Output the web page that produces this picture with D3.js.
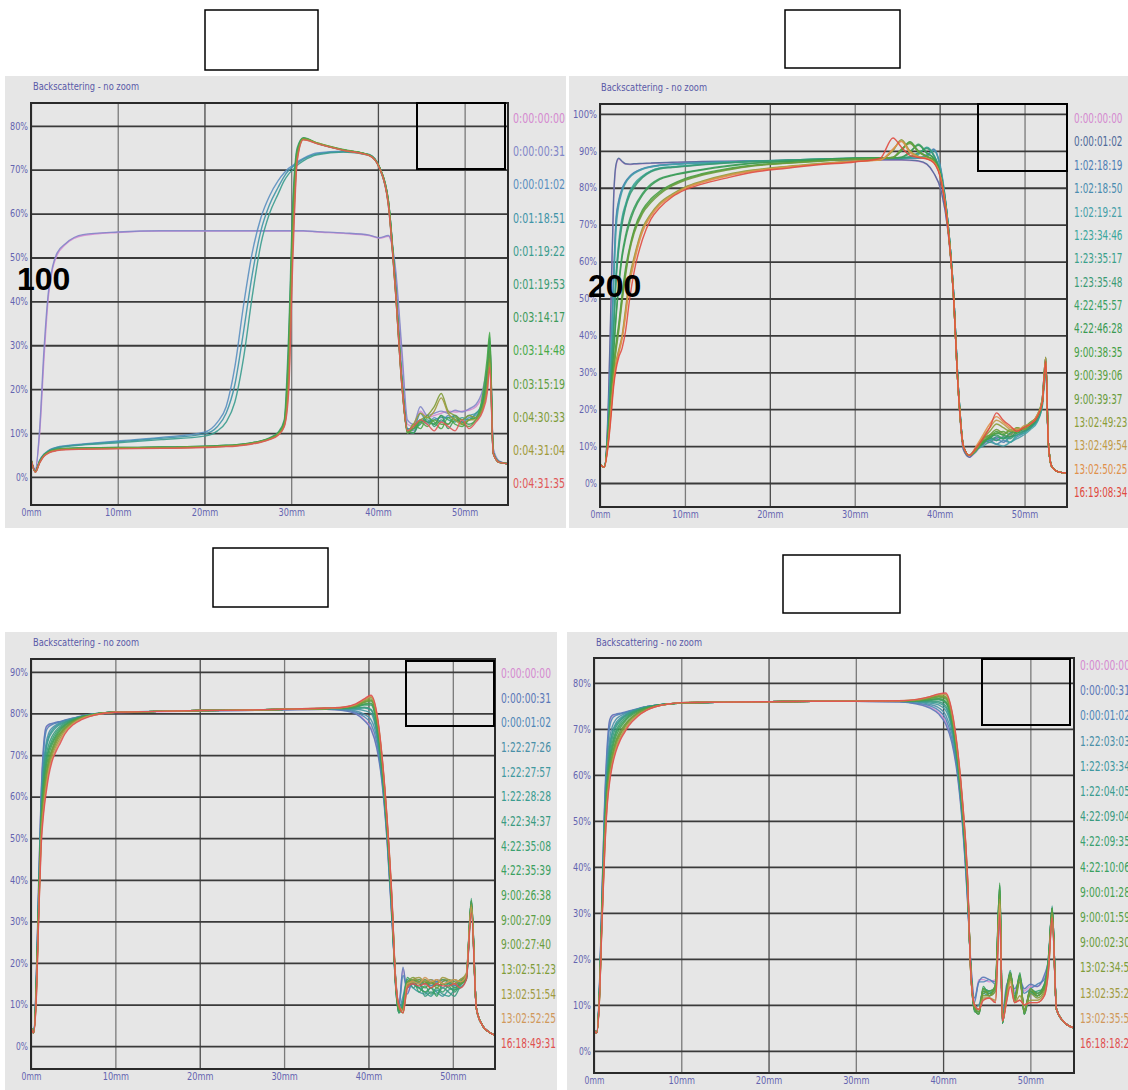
<!DOCTYPE html>
<html><head><meta charset="utf-8">
<script src="https://cdn.jsdelivr.net/npm/d3@7"></script>
<style>body{margin:0;background:#fff}</style>
</head><body>
<svg id="c" width="1128" height="1090"></svg>
<script>
// ---------------- DATA ----------------
const xTicks = [0,10,20,30,40,50];
const p1YTicks = [0,10,20,30,40,50,60,70,80];
const p2YTicks = [0,10,20,30,40,50,60,70,80,90,100];
const p3YTicks = [0,10,20,30,40,50,60,70,80,90];
const p4YTicks = [0,10,20,30,40,50,60,70,80];
const panelTags = ["100","200"];
const chartTitle = "Backscattering - no zoom";

const p1Labels = ["0:00:00:00","0:00:00:31","0:00:01:02","0:01:18:51","0:01:19:22","0:01:19:53","0:03:14:17","0:03:14:48","0:03:15:19","0:04:30:33","0:04:31:04","0:04:31:35"];
const p2Labels = ["0:00:00:00","0:00:01:02","1:02:18:19","1:02:18:50","1:02:19:21","1:23:34:46","1:23:35:17","1:23:35:48","4:22:45:57","4:22:46:28","9:00:38:35","9:00:39:06","9:00:39:37","13:02:49:23","13:02:49:54","13:02:50:25","16:19:08:34"];
const p3Labels = ["0:00:00:00","0:00:00:31","0:00:01:02","1:22:27:26","1:22:27:57","1:22:28:28","4:22:34:37","4:22:35:08","4:22:35:39","9:00:26:38","9:00:27:09","9:00:27:40","13:02:51:23","13:02:51:54","13:02:52:25","16:18:49:31"];
const p4Labels = ["0:00:00:00","0:00:00:31","0:00:01:02","1:22:03:03","1:22:03:34","1:22:04:05","4:22:09:04","4:22:09:35","4:22:10:06","9:00:01:28","9:00:01:59","9:00:02:30","13:02:34:55","13:02:35:26","13:02:35:57","16:18:18:28"];

// position along the cell (mm)
const p1X = [0,0.5,1,1.5,2,2.5,3,4,6,10, 15,20,21.5,22.5,23.5,24.5,25.5,26.5,27.5,28.5, 29.2,29.7,30.2,30.7,31.4,33,36,39,40.2,41.2, 42,42.8,43.4,44.1,44.9,45.7,46.5,47.3,48.1,48.9, 49.7,50.5,51.3,52.1,52.6,52.9,53.3,54,55];
const p1Series = [
 [4,1.8,10,27,41,47.5,50.5,53,55,55.7, 56,56,56,56,56,56,56,56,56,56, 56,56,56,56,56,55.8,55.5,55,54.4,54.8, 47,26,12,11.5,15,13.5,14,14.5,15,14.8, 15,15.2,16,19,24,31,6,3.5,3],
 [4,1.5,11,29,42,48,51,53.2,55.2,55.8, 56.1,56.1,56.1,56.1,56.1,56.1,56.1,56.1,56.1,56.1, 56.1,56.1,56.1,56.1,56.1,55.9,55.6,55.1,54.5,55, 48,28,13,12,16,14,14.5,15,14.5,15.2, 14.8,15.5,16.5,20,25,30,6.5,3.6,3],
 [4,1.3,3.8,5.2,6,6.5,6.8,7.1,7.5,8.2, 9,10.2,12.5,16,25,39,51,59,64,67.5, 69.3,70.3,71,71.8,72.6,73.8,74.2,73.5,70.5,63, 45,22,11,10.5,13,12,13.5,12.5,14,13, 12.5,13.5,14,17,22,28,5.5,3.4,3],
 [4,1.3,3.7,5.1,5.9,6.4,6.7,7,7.4,8, 8.8,9.8,11.5,14.5,21,33,46,56,62,66, 68.5,69.8,70.7,71.5,72.4,73.6,74.1,73.4,70.3,62.5, 44,21,11,11,14.5,12.5,13,13.5,13.5,14, 13,14,14.5,17.5,23,29,5.5,3.4,3],
 [4,1.3,3.6,5,5.8,6.3,6.6,6.9,7.3,7.8, 8.5,9.3,10.5,12.5,17,27,41,53,60,64.5, 67.5,69,70,71,72,73.4,74,73.3,70.2,62, 43,20,10.5,10,12.5,13,12,14,13,12.5, 13.5,13,14.5,16.5,22,28,5.4,3.3,3],
 [4,1.2,3.5,5,5.7,6.1,6.3,6.5,6.6,6.7, 6.8,7,7.1,7.2,7.3,7.5,7.8,8.2,8.9,10.2, 13,32,63,75,77.3,76,74.5,73.3,70.5,63, 44,21,10.5,11,12,14,11.5,13,12,14, 12,13,13.5,18,25,32,5.5,3.3,3],
 [4,1.2,3.5,5,5.7,6.1,6.3,6.5,6.6,6.7, 6.8,7,7.1,7.2,7.3,7.5,7.8,8.2,8.8,10, 12.5,29,61,74.5,77.2,76,74.5,73.3,70.5,63, 44,21,10.5,10,13,12.5,12,14,11,13, 12.5,12,13,17,24,31,5.5,3.3,3],
 [4,1.2,3.4,4.9,5.6,6,6.2,6.4,6.5,6.6, 6.7,6.9,7,7.1,7.2,7.4,7.7,8.1,8.7,9.9, 12.3,27,59,74,77.2,76.1,74.6,73.4,70.5,63, 44,21,10,12,11,13.5,12.5,11,13.5,12, 11.5,13,13.5,19,27,33,5.5,3.3,3],
 [4,1.2,3.4,4.9,5.6,6,6.2,6.4,6.5,6.6, 6.7,6.9,7,7.1,7.2,7.4,7.7,8.1,8.7,9.8, 12,25,57,73.5,77.1,76,74.5,73.3,70.4,62.5, 43.5,20.5,10,11,12.5,11.5,13,12,12,13.5, 12,11.5,13,16,22,29,5.4,3.3,3],
 [4,1.1,3.3,4.8,5.5,5.9,6.1,6.3,6.4,6.5, 6.6,6.8,6.9,7,7.1,7.3,7.6,8,8.6,9.7, 11.8,23,55,73,77,76.1,74.5,73.3,70.4,62.5, 43.5,20.5,10.5,11.5,13,14,16,19,15,14, 13,14,13.5,16,21,27,5.4,3.3,3],
 [4,1.1,3.3,4.8,5.5,5.9,6.1,6.3,6.4,6.5, 6.6,6.8,6.9,7,7.1,7.3,7.6,8,8.6,9.6, 11.6,21,53,72.5,76.9,76,74.4,73.2,70.3,62.3, 43,20,10.5,12,14.5,13.5,15,18,14.5,13, 12,13,13,15.5,20,26,5.4,3.3,3],
 [4,1.1,3.2,4.7,5.4,5.8,6,6.2,6.3,6.4, 6.5,6.7,6.8,6.9,7,7.2,7.5,7.9,8.5,9.5, 11.4,19,50,72,76.8,75.9,74.4,73.2,70.3,62, 43,20,10.5,11.5,13,12,10.5,12.5,11.5,10.5, 13,11,12.5,15,19,25,5.3,3.3,3]
];

const p2X = [0,0.5,1,1.3,1.6,1.9,2.2,2.6,3,3.5, 4,5,6,7,8.5,10,12,15,18,22,26,30, 33,34.5,35.5,36.5,37.5,38.5,39.3,40.2,41,41.6,42.2,42.8,43.5, 44.3,45.1,45.9,46.7,47.5,48.3,49.1,49.9,50.7,51.5,52.1,52.5,52.8,53.2,54,55];
const p2Series = [
 [5,4.3,22,48,76,86,87.8,87,86.4,86.3, 86.4,86.5,86.6,86.7,86.8,86.9,87,87.1,87.2,87.3,87.4,87.5, 87.5,87.5,87.5,87.4,87.2,86.3,84,79,68,52,25,9,7, 8.5,10.5,11,12,12.5,13,14,14.5,15.5,17,23,34,11,4.5,3,2.7],
 [5,4.3,23,50,77,86.5,88,87.2,86.5,86.4, 86.5,86.6,86.7,86.8,86.9,87,87.1,87.2,87.3,87.4,87.5,87.6, 87.6,87.6,87.6,87.5,87.3,86.4,84,79,68,52,25,9,7, 9,11,11.5,12.5,12,13.5,14.5,14,15.5,17.5,23,33,11,4.5,3,2.7],
 [5,4.3,18,36,56,72,76.5,79.8,81.7,83.1, 84.1,85.2,85.8,86.1,86.4,86.6,86.8,87,87.2,87.4,87.6,87.8, 87.9,88,88,88,88,88.5,90.5,84,70,53,26,10,7.5, 9.5,10.5,12,12,11,12.5,13,14,15,17,22,32,11,4.5,3,2.7],
 [5,4.3,18,35,55,71,76,79.5,81.5,83, 84,85.1,85.7,86.1,86.4,86.6,86.8,87,87.2,87.4,87.6,87.8, 87.9,88,88,88,88,88.7,90.3,84.5,70,53,26,10,7.5, 9,11,11.5,10.5,11.5,11,12.5,13.5,15,17,22,31,11,4.5,3,2.7],
 [5,4.3,17,34,53,69,75,79,81.2,82.8, 83.8,85,85.6,86,86.3,86.5,86.8,87,87.2,87.4,87.6,87.8, 87.9,88,88,88,88.1,89,90,84,70,53,26,10,7.5, 9,10,11,10.5,10,11,12,13,14.5,16.5,21,31,11,4.5,3,2.7],
 [5,4.3,16,31,43,57,65,72,75.5,79, 81,83.2,84.6,85.3,85.7,86,86.4,86.9,87.2,87.5,87.8,88, 88.1,88.1,88.1,88.2,89,91,89,83,70,53,26,10,7.5, 9,11,12,11.5,12.5,11,13,13.5,15,17,22,33,11,4.5,3,2.7],
 [5,4.3,16,30,42,56,64,71,75,78.5, 80.5,83,84.5,85.3,85.6,85.9,86.3,86.8,87.2,87.5,87.8,88, 88.1,88.1,88.1,88.3,89.3,90.8,88.8,83,70,53,26,10,7.5, 8.5,11.5,11,12.5,12,12.5,13,14,15.5,17,21,32,11,4.5,3,2.7],
 [5,4.3,15,29,41,55,63,70,74.5,78, 80,82.7,84.3,85.1,85.5,85.8,86.2,86.7,87.1,87.5,87.8,88, 88.1,88.1,88.1,88.4,89.5,90.6,88.7,83,70,53,26,10,7.5, 9,10.5,12.5,11.5,12.5,12,13.5,14,15,17.5,22,34,11,4.5,3,2.7],
 [5,4.3,15,26,36,46,54,62,67,71.5, 74.5,78.5,81,82.5,83.5,84.2,85,86,86.7,87.2,87.6,88, 88.1,88.1,88.2,89.5,91.8,89.5,88,82.5,69,52,25,10,7.5, 9,11,12.5,13,12,13.5,14,14.5,16,18,23,34,11,4.5,3,2.7],
 [5,4.3,14,25,35,45,53,61,66,70.5, 73.8,78,80.6,82.2,83.3,84,84.8,85.8,86.6,87.1,87.6,88, 88.1,88.1,88.3,89.8,91.5,89.3,87.9,82.5,69,52,25,10,7.5, 9.5,11.5,12,13.5,13,12.5,14,15,15.5,18,22,33,11,4.5,3,2.7],
 [5,4.3,14,24,32,38,43,51,58,64, 68.5,74,77,79,81,82.5,83.8,85.2,86.1,86.8,87.4,87.9, 88,88.2,90,92.5,90,88.5,87.5,82,69,52,25,10,7.5, 9,11,12.5,14,13,14.5,13.5,15,16,18,22,33,11,4.5,3,2.7],
 [5,4.3,14,23,31,37,42,50,57,63.5, 68,73.5,76.5,78.6,80.8,82.3,83.6,85,86,86.7,87.3,87.8, 88,88.3,90.3,92.3,89.8,88.5,87.5,82,69,52,25,10,7.5, 9.5,12,13,13.5,14,13,15,14.5,16,18.5,23,34,11,4.5,3,2.7],
 [5,4.3,13,22,30,36,41,49,56,63, 67.5,73,76,78.2,80.5,82,83.4,84.8,85.9,86.6,87.2,87.7, 87.9,88.2,90.5,92,89.7,88.4,87.4,82,69,52,25,10,7.5, 9,11.5,13,14.5,13.5,14,14.5,15,16.5,18,22,33,11,4.5,3,2.7],
 [5,4.3,12,20,28,33,36,40,47,56, 61,69,73,75.8,78.3,80.2,81.8,83.6,84.8,85.8,86.6,87.3, 87.6,90,93,90,88.5,88,87,82,69,52,25,10,7.5, 9,12,14,16,15,14,15,14.5,16,18,22,33,11,4.5,3,2.7],
 [5,4.3,12,20,27.5,32.5,35.5,39.5,46,55, 60.5,68.5,72.7,75.5,78,80,81.6,83.4,84.6,85.7,86.5,87.2, 87.6,90.3,92.7,89.8,88.4,87.9,87,82,69,52,25,10,7.5, 9.5,12.5,15,17,16,14.5,14,15.5,16,18,23,34,11,4.5,3,2.7],
 [5,4.3,11.5,19,27,32,35,39,45,54, 59.5,68,72.3,75.2,77.8,79.8,81.4,83.2,84.5,85.6,86.4,87.1, 87.5,90.5,92.5,89.5,88.3,87.9,86.9,82,69,52,25,10,7.5, 10,13,16,18,16.5,15,14.5,15,16,18.5,22,33,11,4.5,3,2.7],
 [5,4.3,11,18,26,31,34,36.5,41,50, 57,66,71.5,74.5,77.5,79.4,81,82.7,84.2,85.3,86.3,87, 88,93.5,91,88.8,88.2,87.8,86.8,81.5,68.5,52,25,10,7.5, 9.5,12,15,19,17,15.5,14,15,16,18,22,33,11,4.5,3,2.7]
];

const p3X = [0,0.3,0.6,0.9,1.2,1.5,1.8,2.1,2.5,3, 3.5,4,5,6,7,8.5,10,15,20,25, 30,35,37,38.5,39.5,40.3,41,41.6,42.2,42.8, 43.2,43.6,44.1,44.6,45.3,46,46.7,47.4,48.1,48.8, 49.5,50.2,50.9,51.6,52.2,52.8,53.5,54.2,55];
const p3Series = [
 [4.6,3.2,14,38,60,72,76.5,77.2,77.5,77.8, 78,78.3,78.8,79.3,79.7,80,80.2,80.4,80.6,80.7, 80.9,81,80.8,80,78.5,76.5,72,64,50,30, 17,10,18.5,13,15.5,15,16,15,16,15.5, 16,15,15.5,16.5,34,9,5,3.5,2.6],
 [4.6,3.2,14.5,38.5,60.5,72.5,76.8,77.4,77.6,77.9, 78.1,78.4,78.9,79.4,79.8,80.1,80.3,80.5,80.7,80.8, 80.9,81,80.7,79.9,78.3,76.2,71.5,63.5,49.5,29.5, 16.5,9.5,19,12.5,16,15.5,15,16,15.5,16, 15.5,16,15,16.5,33,9,5,3.5,2.6],
 [4.6,3.2,13.5,37,59,71,75.8,76.8,77.3,77.7, 78,78.3,78.8,79.3,79.7,80.1,80.3,80.5,80.6,80.7, 80.9,81,80.9,80.3,79.2,77.5,73,64.5,50.5,30.5, 17,9.5,17,14,15,16,15.5,14.5,15.5,16, 15.5,14.5,16,17,35,9,5,3.5,2.6],
 [4.6,3.2,13,36,57,68,73,75.3,76.5,77.3, 77.8,78.2,78.8,79.3,79.7,80.1,80.3,80.5,80.7,80.8, 81,81.1,81,80.6,79.8,78.5,74,65,51,31, 16,9,12,16,15,14,16,14.5,15,14, 15,14.5,15.5,16.5,34,9,5,3.5,2.6],
 [4.6,3.2,12.8,35.5,56,67,72,74.5,76,77, 77.6,78,78.7,79.3,79.7,80.1,80.3,80.5,80.7,80.8, 81,81.1,81.1,81,80.7,80,75,65.5,51.5,31.5, 15.5,8.5,11,15.5,14,13,12.5,14,13,12, 13.5,14,15,16,33,9,5,3.5,2.6],
 [4.6,3.2,12.5,35,56,66.5,71.5,74,75.5,76.7, 77.4,77.9,78.7,79.3,79.7,80.1,80.3,80.5,80.7,80.8, 81,81.2,81.2,81.2,81.3,80.8,75.5,66,52,32, 15,8,10,14.5,15.5,14,13,12,13.5,12.5, 12,13.5,14,16,34,9,5,3.5,2.6],
 [4.6,3.2,12,34,55,65,70,72.5,74.5,76, 77,77.7,78.6,79.2,79.7,80.1,80.3,80.5,80.7,80.8, 81,81.2,81.2,81.3,81.5,81,76,66,52,32, 15,8,10.5,16,14,15.5,12,13,12.5,14, 13,12,14.5,16.5,35,9,5,3.5,2.6],
 [4.6,3.2,12,33.5,54,64,69,71.5,73.7,75.5, 76.6,77.4,78.5,79.2,79.6,80.1,80.3,80.5,80.7,80.8, 81,81.2,81.3,81.5,82,82,77,67,52.5,32.5, 16,8.5,9.5,15,16,13,14.5,12.5,14,13, 14.5,13,15,17,35.5,9,5,3.5,2.6],
 [4.6,3.2,12,33,53.5,63,68,71,73,75, 76.3,77.2,78.4,79.1,79.6,80.1,80.3,80.5,80.7,80.8, 81,81.2,81.3,81.6,82.2,82.3,77.5,67.5,53,33, 15.5,8,10,16.5,15,14,13,14,12,15, 14,13.5,15.5,16.5,35,9,5,3.5,2.6],
 [4.6,3.2,12,33,53,62,67,70,72.5,74.5, 76,77,78.3,79.1,79.6,80.1,80.3,80.5,80.7,80.8, 81,81.2,81.3,81.7,82.3,82.5,78,68,53,33, 16,8.5,9,15,15.5,15,14,15.5,14.5,15, 15,14,15,16,34,9,5,3.5,2.6],
 [4.6,3.2,11.5,32.5,52,60.5,65.5,69,71.5,74, 75.5,76.6,78.1,79,79.5,80.1,80.3,80.5,80.7,80.8, 81,81.2,81.4,81.8,82.6,83,78.5,68.5,53.5,33.5, 16.5,9,8.5,15.5,16,15,15.5,14,15,16, 15.5,15,16,16.5,35,9,5,3.5,2.6],
 [4.6,3.2,11.5,32,51.5,60,65,68.3,71,73.5, 75.2,76.4,78,79,79.5,80.1,80.3,80.5,80.7,80.8, 81,81.2,81.4,81.9,82.8,83.2,78.8,68.8,53.8,33.8, 16,9,9,14.5,15.5,16,15,15.5,14,15.5, 16,15.5,15,17,34,9,5,3.5,2.6],
 [4.6,3.2,11,32,51,59,64,67.5,70.5,73, 74.8,76.2,77.9,78.9,79.5,80.1,80.3,80.5,80.7,80.8, 81,81.2,81.4,82,83,83.5,79,69,54,34, 16.5,9.5,8,15,16.5,15.5,16,15,16,15, 15.5,16,15.5,17,33,9,5,3.5,2.6],
 [4.6,3.2,10.5,31,50,58,63,66.5,69.8,72.3, 74.2,75.8,77.7,78.8,79.4,80,80.3,80.5,80.7,80.8, 81,81.2,81.5,82.1,83.2,83.9,79.5,69.5,54.5,34.5, 17,9.5,8,14,16,16.5,15.5,16,15,16.5, 16,15,16,17.5,34,9,5,3.5,2.6],
 [4.6,3.2,10.5,30.5,49,57,62,66,69,71.7, 73.6,75.4,77.5,78.7,79.4,80,80.3,80.5,80.7,80.8, 81,81.3,81.5,82.2,83.4,84.1,79.8,69.8,54.8,34.8, 16.5,10,8.5,15,15.5,15,16.5,15.5,16,15, 15.5,16,15.5,17,33.5,9,5,3.5,2.6],
 [4.6,3.2,10,30,48,56,61,65,68.5,71, 73,75,77.3,78.5,79.3,80,80.3,80.5,80.7,80.8, 81,81.3,81.5,82.3,83.5,84.4,80,70,55,35, 16,10,8,14,15,14.5,15,14,15,14.5, 14.5,15,14,16,32,9,5,3.5,2.6]
];

const p4X = [0,0.3,0.6,0.9,1.2,1.5,1.8,2.1,2.5,3, 3.5,4,5,6,7,8.5,10,15,20,25, 30,35,37,38.5,39.5,40.3,41,41.6,42.2,42.8, 43.2,43.6,44.1,44.6,45.3,46,46.5,46.8,47.3,47.7, 48.2,48.8,49.3,50,50.8,51.6,52.1,52.5,53,54,55];
const p4Series = [
 [4.6,3.9,12,32,52,65,71.5,72.8,73.1,73.3, 73.5,73.8,74.3,74.8,75.1,75.4,75.6,75.8,75.9,76, 76,75.9,75.5,74.7,73.5,71.5,67.5,61,50,33, 18,11,15.5,15.5,15,15.5,28,8,14,16, 13,15,13,14,14,16,20,30,9,6,5],
 [4.6,3.9,12.5,33,53,66,72,73,73.2,73.4, 73.6,73.9,74.4,74.8,75.1,75.4,75.6,75.8,75.9,76, 76,75.9,75.4,74.5,73.2,71,67,60.5,49.5,32.5, 18.5,11.5,15,16,15.5,15,30,8.5,14.5,15.5, 13.5,15.5,13.5,14.5,14,16.5,20,29,9,6,5],
 [4.6,3.9,12,32,51.5,64,70.5,72.3,72.9,73.2, 73.5,73.8,74.3,74.8,75.1,75.4,75.6,75.8,75.9,76, 76,75.9,75.6,75,74,72.2,68,61.5,50.5,33.5, 17.5,10.5,15,15,15.5,14.5,29,7.5,13.5,16, 12.5,15,12.5,13.5,14.5,15.5,20,30,9,6,5],
 [4.6,3.9,11.5,31,50,62,68,70.5,72,72.8, 73.3,73.7,74.3,74.8,75.1,75.4,75.6,75.8,75.9,76, 76,76,75.8,75.3,74.6,73,69,62,51,34, 17,9.5,10,13,12.5,13.5,33,7,13,16.5, 11,15.5,9,13,12,14,20,31,9,6,5],
 [4.6,3.9,11.3,30.5,49,60.5,66.5,69.3,71.2,72.3, 73,73.5,74.2,74.8,75.1,75.4,75.6,75.8,75.9,76, 76,76,75.9,75.6,75.2,74,70,62.8,51.5,34.5, 17,9,9,13.5,13,14,35,6.5,12.5,17, 11.5,16,8.5,13.5,12.5,14.5,21,31,9,6,5],
 [4.6,3.9,11.2,30.2,48.5,60,66,69,70.8,72, 72.8,73.4,74.2,74.7,75.1,75.4,75.6,75.8,75.9,76, 76,76,76,75.8,75.6,74.6,70.5,63.2,51.8,34.8, 16.5,9,8.5,12.5,12,13,34,6,13.5,17.5, 11,16.5,8,12.5,12,13.5,20,31.5,9,6,5],
 [4.6,3.9,11,30,48,59,65,68,70.3,71.7, 72.6,73.2,74.1,74.7,75.1,75.4,75.6,75.8,75.9,76, 76,76,76,76,75.9,75,71,63.5,52,35, 17,9,8,13,12.5,14,36,6,13,17, 11,16.5,8,13,12,14,20,31,9,6,5],
 [4.6,3.9,11,29.5,47,58,64,67,69.5,71.2, 72.2,73,74,74.6,75,75.4,75.6,75.8,75.9,76, 76,76,76.1,76.2,76.3,75.6,71.5,64,52.5,35.5, 16.5,8.5,8.5,13.5,13,13.5,35,6.5,12,16, 12,16,9,12.5,13,13.5,21,30,9,6,5],
 [4.6,3.9,11,29.2,46.5,57.5,63.2,66.2,69,70.7, 71.8,72.8,73.9,74.6,75,75.4,75.6,75.8,75.9,76, 76,76,76.1,76.3,76.5,75.8,71.8,64.3,52.8,35.8, 17,9,8,14,12,14.5,36,6,13,17, 11,17,8,13.5,12.5,14.5,20,31,9,6,5],
 [4.6,3.9,11,29,46,57,62.5,65.5,68.3,70.2, 71.5,72.5,73.7,74.5,75,75.4,75.6,75.8,75.9,76, 76,76,76.1,76.4,76.6,76,72,64.5,53,36, 17,9.5,8.5,13,12.5,14,36.5,6,13.5,17, 11,16.5,8.5,13,12,14,20,31,9,6,5],
 [4.6,3.9,10.8,28.5,45,56,61.5,64.5,67.4,69.5, 70.9,72,73.5,74.4,74.9,75.4,75.6,75.8,75.9,76, 76,76,76.2,76.6,76.9,76.5,72.5,65,53.5,36.5, 16.5,9,8,12.5,13,13.5,35,6.5,12.5,16.5, 11.5,16,8,13,12.5,14,20,31,9,6,5],
 [4.6,3.9,10.6,28.2,44.5,55.5,61,64,67,69, 70.6,71.8,73.4,74.3,74.9,75.4,75.7,75.8,75.9,76, 76,76.1,76.2,76.7,77.1,76.8,72.8,65.3,53.8,36.8, 16,9.5,8.5,13.5,12,14.5,34,7,13,17, 11,16,8.5,13.5,12,13.5,19,30,9,6,5],
 [4.6,3.9,10.5,28,44,55,60.5,63.5,66.5,68.7, 70.3,71.6,73.2,74.2,74.9,75.4,75.7,75.8,75.9,76, 76,76.1,76.3,76.8,77.2,77,73,65.5,54,37, 16,10,9,12,12,13,33,6.5,12,16, 10.5,15,9,12.5,11.5,13,19,30,9,6,5],
 [4.6,3.9,10.3,27.5,43,54,59.5,62.8,65.8,68.1, 69.8,71.2,73,74.1,74.8,75.4,75.7,75.8,75.9,76, 76,76.1,76.3,76.9,77.4,77.4,73.5,66,54.5,37.5, 16,10,9,11.5,11.5,11,33,6.5,11.5,15.5, 10.5,12,10,11,11,12.5,18.5,29.5,9,6,5],
 [4.6,3.9,10.2,27.2,42.5,53.5,59,62.4,65.4,67.8, 69.5,71,72.9,74,74.8,75.4,75.7,75.8,75.9,76, 76,76.1,76.4,77,77.5,77.6,73.8,66.3,54.8,37.8, 16,10,9,11,11.5,10.5,32,6.5,11,15, 10.5,11,10,10.5,10.5,12,18,29,9,6,5],
 [4.6,3.9,10,27,42,53,58.5,62,65,67.5, 69.2,70.7,72.7,74,74.8,75.4,75.7,75.8,75.9,76, 76,76.1,76.4,77,77.6,77.8,74,66.5,55,38, 16,10,9,11,11.5,10.5,30,6.5,11,14, 10.5,11,10,10.5,10.5,12,18,29,9,6,5]
];

// ---------------- STYLES ----------------
const p1Colors = ["#d58ad0","#8286c8","#5a8fc0","#3e94a8","#3a9c8e","#3a9c74","#3c9a5a","#48aa48","#5da043","#7e9c38","#a09a3a","#e05858"];
const p2Colors = ["#d58ad0","#4f6a9a","#5080b5","#4a8cb0","#45a0a8","#3aa69c","#3aa08a","#3a9a74","#3aa062","#3a9a52","#45a045","#5aa040","#6a9c3c","#8a9c38","#c09a48","#e0904a","#e04a40"];
const p34Colors = ["#d58ad0","#5a78b8","#4f86b8","#4a90a8","#3f98a0","#3a9c90","#3a9a80","#3aa070","#3aa060","#45a050","#5a9f45","#6a9c3c","#7f9c38","#a09a40","#d0985a","#e05050"];
const tickColor = "#6464b0";
const FONT = "'Liberation Sans Narrow','DejaVu Sans Condensed','Liberation Sans',sans-serif";

const panels = [
 {bg:[5,76,561,452], l:31,t:103,r:508,b:505, yDom:[-6.4,85.2], yTicks:p1YTicks, xs:p1X, ser:p1Series, labels:p1Labels, colors:p1Colors, legX:513, legY0:118, legDy:33.2, legCw:5.2, titleX:33, titleY:90, inBox:[417,103,505,169]},
 {bg:[569,76,559,452], l:600,t:104,r:1067,b:507, yDom:[-6.5,102.7], yTicks:p2YTicks, xs:p2X, ser:p2Series, labels:p2Labels, colors:p2Colors, legX:1074, legY0:118, legDy:23.375, legCw:4.85, titleX:601, titleY:91, inBox:[978,104,1067,171]},
 {bg:[5,632,552,458], l:31,t:659,r:495,b:1069, yDom:[-5.5,93.1], yTicks:p3YTicks, xs:p3X, ser:p3Series, labels:p3Labels, colors:p34Colors, legX:501, legY0:673, legDy:24.67, legCw:5.0, titleX:33, titleY:646, inBox:[406,661,494,726]},
 {bg:[567,632,561,458], l:594,t:658,r:1074,b:1073, yDom:[-4.8,85.4], yTicks:p4YTicks, xs:p4X, ser:p4Series, labels:p4Labels, colors:p34Colors, legX:1080, legY0:665, legDy:25.2, legCw:5.0, titleX:596, titleY:646, inBox:[982,659,1070,725]}
];

const svg = d3.select("#c");
svg.append("rect").attr("width",1128).attr("height",1090).attr("fill","#ffffff");

panels.forEach((p,pi)=>{
  const g = svg.append("g");
  g.append("rect").attr("x",p.bg[0]).attr("y",p.bg[1]).attr("width",p.bg[2]).attr("height",p.bg[3]).attr("fill","#e6e6e6");
  g.append("text").attr("x",p.titleX).attr("y",p.titleY).attr("font-family",FONT).attr("font-size",10.5)
    .attr("textLength",106).attr("lengthAdjust","spacingAndGlyphs")
    .attr("fill","#5a5aa8").text(chartTitle);

  const x = d3.scaleLinear().domain([0,55]).range([p.l,p.r]);
  const y = d3.scaleLinear().domain(p.yDom).range([p.b,p.t]);
  const w = p.r-p.l, h = p.b-p.t;

  // vertical grid + x labels
  const gx = g.append("g").attr("transform",`translate(0,${p.b})`)
    .call(d3.axisBottom(x).tickValues(xTicks).tickSize(-h).tickPadding(4).tickFormat(d=>d+"mm"));
  gx.select(".domain").remove();
  gx.selectAll("line").attr("stroke",d=> (d===20||d===40)?"#4a4a4a":"#7a7a7a").attr("stroke-width",1.3);
  gx.selectAll("text").attr("font-family",FONT).attr("font-size",10).attr("fill",tickColor)
    .attr("textLength",function(){return this.textContent.length*6.6;}).attr("lengthAdjust","spacingAndGlyphs");

  // horizontal grid + y labels
  const gy = g.append("g").attr("transform",`translate(${p.l},0)`)
    .call(d3.axisLeft(y).tickValues(p.yTicks).tickSize(-w).tickPadding(3).tickFormat(d=>d+"%"));
  gy.select(".domain").remove();
  gy.selectAll("line").attr("stroke","#3a3a3a").attr("stroke-width",1.8);
  gy.selectAll("text").attr("font-family",FONT).attr("font-size",10).attr("fill",tickColor)
    .attr("textLength",function(){return this.textContent.length*6.0;}).attr("lengthAdjust","spacingAndGlyphs");

  // curves
  const cid = "clip"+pi;
  g.append("clipPath").attr("id",cid).append("rect").attr("x",p.l).attr("y",p.t).attr("width",w).attr("height",h);
  const line = d3.line().x((d,i)=>x(p.xs[i])).y(d=>y(d)).curve(d3.curveMonotoneX);
  g.append("g").attr("clip-path",`url(#${cid})`).selectAll("path").data(p.ser).join("path")
    .attr("d",line).attr("fill","none").attr("stroke",(d,i)=>p.colors[i])
    .attr("stroke-width",1.4).attr("stroke-opacity",0.9).attr("stroke-linejoin","round");

  // frame
  g.append("rect").attr("x",p.l).attr("y",p.t).attr("width",w).attr("height",h)
    .attr("fill","none").attr("stroke","#2a2a2a").attr("stroke-width",2);

  // legend
  g.selectAll("text.leg").data(p.labels).join("text").attr("class","leg")
    .attr("x",p.legX).attr("y",(d,i)=>p.legY0+i*p.legDy).attr("dy","0.36em")
    .attr("font-family",FONT).attr("font-size",14)
    .attr("textLength",d=>d.length*p.legCw).attr("lengthAdjust","spacingAndGlyphs")
    .attr("fill",(d,i)=>p.colors[i]).text(d=>d);

  // annotation box inside plot
  g.append("rect").attr("x",p.inBox[0]).attr("y",p.inBox[1]).attr("width",p.inBox[2]-p.inBox[0]).attr("height",p.inBox[3]-p.inBox[1])
    .attr("fill","none").attr("stroke","#000").attr("stroke-width",2);
});

// outer empty label boxes
const outerBoxes = [[205,10,318,70],[785,10,900,68],[213,548,328,607],[783,555,900,613]];
svg.selectAll("rect.ob").data(outerBoxes).join("rect").attr("class","ob")
  .attr("x",d=>d[0]).attr("y",d=>d[1]).attr("width",d=>d[2]-d[0]).attr("height",d=>d[3]-d[1])
  .attr("fill","#fff").attr("stroke","#000").attr("stroke-width",1.5);

// panel tags
const tagPos = [[17,290],[588,297]];
svg.selectAll("text.tag").data(panelTags).join("text").attr("class","tag")
  .attr("x",(d,i)=>tagPos[i][0]).attr("y",(d,i)=>tagPos[i][1])
  .attr("font-family","'Liberation Sans',Arial,sans-serif").attr("font-weight","bold").attr("font-size",32)
  .attr("fill","#000").text(d=>d);
</script>
</body></html>
